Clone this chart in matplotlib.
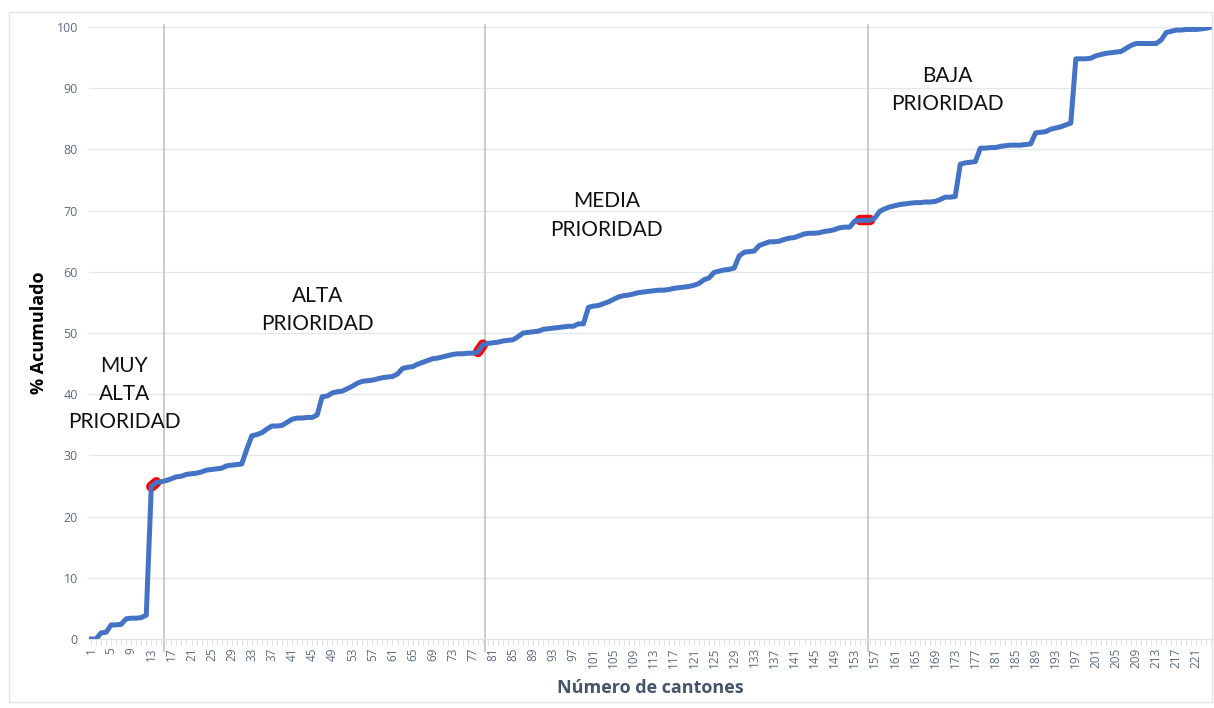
import numpy as np
import matplotlib
matplotlib.use("Agg")
import matplotlib.pyplot as plt
from matplotlib.patches import Rectangle

# % acumulado por cantón (1..224)
acumulado = [
    0.0, 0.0, 1.0, 1.1, 2.3, 2.3, 2.4, 3.3, 3.4, 3.4,
    3.5, 3.9, 24.9, 25.6, 25.7, 25.9, 26.2, 26.5, 26.6, 26.9,
    27.0, 27.1, 27.3, 27.6, 27.7, 27.8, 27.9, 28.3, 28.4, 28.5,
    28.6, 31.0, 33.2, 33.4, 33.7, 34.3, 34.8, 34.8, 34.9, 35.4,
    35.9, 36.1, 36.1, 36.2, 36.2, 36.6, 39.6, 39.7, 40.2, 40.4,
    40.5, 40.9, 41.3, 41.8, 42.1, 42.2, 42.3, 42.5, 42.7, 42.8,
    42.9, 43.3, 44.2, 44.4, 44.5, 44.9, 45.2, 45.5, 45.8, 45.9,
    46.1, 46.3, 46.5, 46.6, 46.6, 46.7, 46.7, 46.9, 48.1, 48.3,
    48.4, 48.5, 48.7, 48.8, 48.9, 49.4, 50.0, 50.1, 50.2, 50.3,
    50.6, 50.7, 50.8, 50.9, 51.0, 51.1, 51.1, 51.5, 51.5, 54.2,
    54.4, 54.5, 54.8, 55.1, 55.5, 55.9, 56.1, 56.2, 56.4, 56.6,
    56.7, 56.8, 56.9, 57.0, 57.0, 57.1, 57.3, 57.4, 57.5, 57.6,
    57.8, 58.1, 58.7, 59.0, 59.9, 60.1, 60.3, 60.4, 60.6, 62.6,
    63.2, 63.3, 63.4, 64.3, 64.6, 64.9, 64.9, 65.0, 65.3, 65.5,
    65.6, 65.9, 66.2, 66.3, 66.3, 66.4, 66.6, 66.7, 66.9, 67.2,
    67.3, 67.3, 68.3, 68.4, 68.4, 68.4, 68.8, 69.9, 70.3, 70.6,
    70.8, 71.0, 71.1, 71.2, 71.3, 71.3, 71.4, 71.4, 71.5, 71.8,
    72.2, 72.2, 72.3, 77.6, 77.8, 77.9, 78.0, 80.2, 80.2, 80.3,
    80.3, 80.5, 80.6, 80.7, 80.7, 80.7, 80.8, 80.9, 82.7, 82.8,
    82.9, 83.3, 83.5, 83.7, 84.0, 84.3, 94.8, 94.8, 94.8, 94.9,
    95.3, 95.5, 95.7, 95.8, 95.9, 96.0, 96.5, 97.0, 97.3, 97.3,
    97.3, 97.3, 97.3, 97.9, 99.1, 99.3, 99.5, 99.5, 99.6, 99.6,
    99.6, 99.7, 99.8, 100.0,
]
cantones = np.arange(1, len(acumulado) + 1)

# cortes entre grupos de prioridad (posición en el eje de cantones)
cortes = [15.6, 79.5, 155.6]
# tramos resaltados en rojo (índices de cantón)
tramos_rojos = [(13, 14), (78, 79), (154, 156)]

etiquetas = [["MUY", "ALTA", "PRIORIDAD"], ["ALTA", "PRIORIDAD"],
             ["MEDIA", "PRIORIDAD"], ["BAJA", "PRIORIDAD"]]
etiquetas_x = [7.6, 46.0, 103.6, 171.4]
etiquetas_y = [40.0, 53.8, 69.2, 89.7]
interlinea = 4.6  # en unidades de %

texto_ejes = "#5b6b82"
rejilla = "#e3e7ee"

fig = plt.figure(figsize=(12.14, 7.08), dpi=100)
fig.patches.append(Rectangle((9 / 1214, 6 / 708), 1203 / 1214, 690 / 708,
                             transform=fig.transFigure, fill=False,
                             edgecolor="#e1e4ea", lw=1))
ax = fig.add_axes([89 / 1214, 69 / 708, 1123 / 1214, 612 / 708])

ax.set_xlim(0.6, 224.1)
ax.set_ylim(0, 100)
ax.set_yticks(np.arange(0, 101, 10))
ax.grid(axis="y", color=rejilla, lw=1)
ax.set_axisbelow(True)

for c in cortes:
    ax.plot([c, c], [-2, 100.3], color="#c4c4c4", lw=1.2, clip_on=False, zorder=2)

arr = np.array(acumulado)
for a, b in tramos_rojos:
    ax.plot(cantones[a - 1:b], arr[a - 1:b], color="#ff0000", lw=7.5,
            solid_capstyle="round", zorder=3)
ax.plot(cantones, arr, color="#4472C4", lw=3.6, solid_joinstyle="round", zorder=4)

# cada línea del rótulo como texto propio
for lineas, x, yc in zip(etiquetas, etiquetas_x, etiquetas_y):
    n = len(lineas)
    for k, t in enumerate(lineas):
        y = yc + ((n - 1) / 2 - k) * interlinea
        ax.text(x, y, t, ha="center", va="center", fontsize=15,
                family="Lato", color="#111111", zorder=5)

xt = np.arange(1, 224, 4)
ax.set_xticks(xt)
ax.set_xticklabels([str(v) for v in xt], rotation=90, fontsize=8.5,
                   color=texto_ejes, family="Open Sans")
ax.set_xticks(cantones, minor=True)
ax.tick_params(axis="x", which="both", length=4, color="#dfe3ea", width=0.8, pad=2)
ax.tick_params(axis="y", length=0, labelsize=9, labelcolor=texto_ejes, pad=8)
for lab in ax.get_yticklabels():
    lab.set_family("Open Sans")

for s in ["top", "right", "left"]:
    ax.spines[s].set_visible(False)
ax.spines["bottom"].set_color("#dfe3ea")

ax.set_ylabel("% Acumulado", fontsize=13, fontweight="bold", color="black",
              family="Open Sans", labelpad=6)
ax.set_xlabel("Número de cantones", fontsize=13, fontweight="bold",
              color="#44546A", family="Open Sans", labelpad=8)

plt.savefig("out.png", dpi=100)
